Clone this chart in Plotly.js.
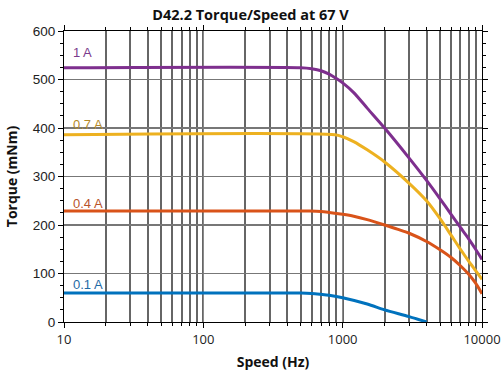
<!DOCTYPE html>
<html><head><meta charset="utf-8">
<script src="https://cdn.plot.ly/plotly-3.0.1.min.js"></script>
<style>html,body{margin:0;padding:0;background:#fff}#c{width:501px;height:375px}</style>
</head><body><div id="c"></div>
<script>
const names = ['0.1 A','0.4 A','0.7 A','1 A'];
const colors = ['#0072BD','#D95319','#EDB120','#7E2F8E'];
const labelColors = ['#1f6aa5','#b8532a','#b58a2a','#7a3a8c'];
const speed01 = [10,500,600,700,800,1000,1500,2000,3000,4000];
const torque01 = [60,60,59,57,55,50,37,25,11,0];
const speed04 = [10,580,700,800,1000,1200,1500,2000,2500,3000,4000,5000,6000,7000,8000,9000,10000];
const torque04 = [229,229,228,226,222,218,211,200,191,183,166,149,133,116,99,80,58];
const speed07 = [10,880,1000,1200,1500,2000,3000,4000,5000,6000,7000,8000,9000,10000];
const torque07 = [386,386,382,372,355,330,286,250,213,179,150,126,106,88];
const speed1 = [10,500,600,700,800,900,1000,1200,1500,2000,3000,4000,5000,6000,7000,8000,9000,10000];
const torque1 = [524,524,522,518,511,502,493,473,441,400,338,292,254,222,195,172,150,129];
const xTickVals = [10,100,1000,10000];
const xTickText = ['10','100','1000','10000'];
const speeds = [speed01,speed04,speed07,speed1];
const torques = [torque01,torque04,torque07,torque1];
const labelY = [78,245,408,555];

const traces = speeds.map((s,i)=>({x:s,y:torques[i],type:'scatter',mode:'lines',
  line:{color:colors[i],width:3,shape:'spline',smoothing:0.8},name:names[i],hoverinfo:'skip'}));

const annotations = names.map((n,i)=>({x:1,xref:'x',y:labelY[i],yref:'y',text:n,showarrow:false,
  xanchor:'left',xshift:7,yanchor:'middle',font:{family:'Liberation Sans, Arial',size:13,color:labelColors[i]}}));

const layout = {
  width:501,height:375,margin:{l:64,r:19,t:31,b:53},
  paper_bgcolor:'#fff',plot_bgcolor:'#fff',showlegend:false,
  title:{text:'<b>D42.2 Torque/Speed at 67 V</b>',x:0.5,xanchor:'center',y:0.975,yanchor:'top',
    font:{family:'Open Sans',size:14.5,color:'#111'}},
  xaxis:{type:'log',range:[1,4],tickmode:'array',tickvals:xTickVals,ticktext:xTickText,
    showline:true,linecolor:'#000',linewidth:1,mirror:'ticks',
    ticks:'outside',ticklen:5,tickcolor:'#000',
    showgrid:true,gridcolor:'#8a8a8a',gridwidth:1,zeroline:false,
    tickfont:{family:'Open Sans',size:13,color:'#222'},
    minor:{dtick:'D1',showgrid:true,gridcolor:'#666',gridwidth:2,ticks:'outside',ticklen:3,tickcolor:'#000'},
    title:{text:'<b>Speed (Hz)</b>',standoff:10,font:{family:'Open Sans',size:14,color:'#111'}}},
  yaxis:{range:[0,600],dtick:100,showline:true,linecolor:'#000',linewidth:1,mirror:'ticks',
    ticks:'outside',ticklen:5,tickcolor:'#000',
    showgrid:true,gridcolor:'#777',gridwidth:1.6,zeroline:false,
    tickfont:{family:'Liberation Sans, Arial',size:13.5,color:'#222'},
    minor:{dtick:25,showgrid:false,ticks:'outside',ticklen:3,tickcolor:'#000'},
    title:{text:'<b>Torque (mNm)</b>',standoff:11,font:{family:'Open Sans',size:14,color:'#111'}}},
  annotations:annotations
};
Plotly.newPlot('c',traces,layout,{staticPlot:true,displayModeBar:false});
</script></body></html>
